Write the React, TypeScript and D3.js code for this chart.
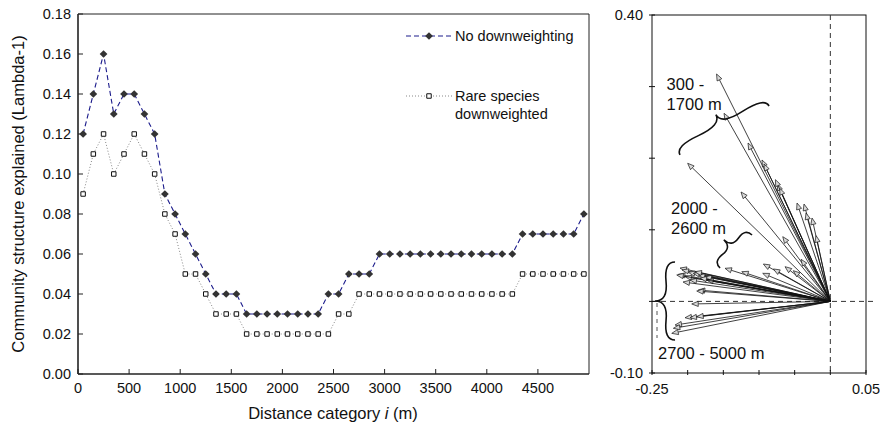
import React from "react";
import * as d3 from "d3";

// ---------- Left panel data ----------
const distances = [
  50, 150, 250, 350, 450, 550, 650, 750, 850, 950,
  1050, 1150, 1250, 1350, 1450, 1550, 1650, 1750, 1850, 1950,
  2050, 2150, 2250, 2350, 2450, 2550, 2650, 2750, 2850, 2950,
  3050, 3150, 3250, 3350, 3450, 3550, 3650, 3750, 3850, 3950,
  4050, 4150, 4250, 4350, 4450, 4550, 4650, 4750, 4850, 4950,
];
const noDownweighting = [
  0.12, 0.14, 0.16, 0.13, 0.14, 0.14, 0.13, 0.12, 0.09, 0.08,
  0.07, 0.06, 0.05, 0.04, 0.04, 0.04, 0.03, 0.03, 0.03, 0.03,
  0.03, 0.03, 0.03, 0.03, 0.04, 0.04, 0.05, 0.05, 0.05, 0.06,
  0.06, 0.06, 0.06, 0.06, 0.06, 0.06, 0.06, 0.06, 0.06, 0.06,
  0.06, 0.06, 0.06, 0.07, 0.07, 0.07, 0.07, 0.07, 0.07, 0.08,
];
const rareDownweighted = [
  0.09, 0.11, 0.12, 0.10, 0.11, 0.12, 0.11, 0.10, 0.08, 0.07,
  0.05, 0.05, 0.04, 0.03, 0.03, 0.03, 0.02, 0.02, 0.02, 0.02,
  0.02, 0.02, 0.02, 0.02, 0.02, 0.03, 0.03, 0.04, 0.04, 0.04,
  0.04, 0.04, 0.04, 0.04, 0.04, 0.04, 0.04, 0.04, 0.04, 0.04,
  0.04, 0.04, 0.04, 0.05, 0.05, 0.05, 0.05, 0.05, 0.05, 0.05,
];
const xTicksLeft = [0, 500, 1000, 1500, 2000, 2500, 3000, 3500, 4000, 4500];
const yTicksLeft = [0, 0.02, 0.04, 0.06, 0.08, 0.1, 0.12, 0.14, 0.16, 0.18];
const legendLabels = ["No downweighting", "Rare species", "downweighted"];

// ---------- Right panel data (arrow tips, axes 1 & 2) ----------
const arrowX = [
  -0.1595, -0.149, -0.1154, -0.0958, -0.093, -0.0743, -0.077, -0.071, -0.0467, -0.0369,
  -0.0341, -0.0257, -0.02, -0.0667, -0.0411,
  -0.2, -0.1252, -0.1476, -0.1242, -0.0939, -0.0799, -0.0635, -0.0519, -0.0948,
  -0.2107, -0.2079, -0.2131, -0.2037, -0.1991, -0.1921, -0.1851, -0.1757, -0.1733, -0.2153,
  -0.1897, -0.1851, -0.1873, -0.1943, -0.2037, -0.1967, -0.1873, -0.2177, -0.2201, -0.2223,
  -0.1827, -0.1967, -0.2065,
];
const arrowY = [
  0.3176, 0.2627, 0.2212, 0.1975, 0.1919, 0.164, 0.17, 0.158, 0.1374, 0.136,
  0.1235, 0.1165, 0.0918, 0.0904, 0.0588,
  0.1929, 0.1528, 0.0462, 0.0415, 0.0522, 0.0453, 0.0485, 0.0429, 0.0392,
  0.0466, 0.0439, 0.0378, 0.0345, 0.0406, 0.0392, 0.0369, 0.0345, 0.0299, 0.0369,
  0.0415, 0.0159, 0.0145, -0.0036, -0.0228, -0.0228, -0.0214, -0.033, -0.0376, -0.0446,
  0.0327, 0.0299, 0.0271,
];
const xTicksRight = [-0.25, -0.2, -0.15, -0.1, -0.05, 0, 0.05];
const yTicksRight = [-0.1, 0, 0.1, 0.2, 0.3, 0.4];
const groupLabels = [
  { lines: ["300 -", "1700 m"], x: -0.2295, y: 0.2955 },
  { lines: ["2000 -", "2600 m"], x: -0.2233, y: 0.122 },
  { lines: ["2700 - 5000 m"], x: -0.2415, y: -0.0804 },
];
// braces: [x1, y1, x2, y2, depth(px)]
const braces = [
  [-0.0859, 0.2729, -0.2107, 0.2045, 18],
  [-0.1098, 0.0927, -0.1546, 0.0466, 17],
  [-0.2177, 0.055, -0.2177, -0.0539, 20],
];

const FONT = "'Liberation Sans', Arial, Helvetica, sans-serif";

function bracePath(x1: number, y1: number, x2: number, y2: number, w: number, q: number) {
  let dx = x1 - x2;
  let dy = y1 - y2;
  const len = Math.sqrt(dx * dx + dy * dy);
  dx /= len;
  dy /= len;
  const qx1 = x1 + q * w * dy, qy1 = y1 - q * w * dx;
  const qx2 = x1 - 0.25 * len * dx + (1 - q) * w * dy, qy2 = y1 - 0.25 * len * dy - (1 - q) * w * dx;
  const tx1 = x1 - 0.5 * len * dx + w * dy, ty1 = y1 - 0.5 * len * dy - w * dx;
  const qx3 = x2 + q * w * dy, qy3 = y2 - q * w * dx;
  const qx4 = x1 - 0.75 * len * dx + (1 - q) * w * dy, qy4 = y1 - 0.75 * len * dy - (1 - q) * w * dx;
  return `M${x1},${y1} Q${qx1},${qy1} ${qx2},${qy2} T${tx1},${ty1} M${x2},${y2} Q${qx3},${qy3} ${qx4},${qy4} T${tx1},${ty1}`;
}

export default function App() {
  // Left panel scales
  const xL = d3.scaleLinear().domain([0, 5000]).range([78, 589]);
  const yL = d3.scaleLinear().domain([0, 0.18]).range([374, 14]);
  // Right panel scales
  const xR = d3.scaleLinear().domain([-0.25, 0.05]).range([652, 866]);
  const yR = d3.scaleLinear().domain([-0.1, 0.4]).range([373, 15]);

  const lineGen = d3
    .line<number>()
    .x((_, i) => xL(distances[i]))
    .y((d) => yL(d));

  const diamond = d3.symbol().type(d3.symbolDiamond2).size(38)();
  const square = d3.symbol().type(d3.symbolSquare).size(20)();

  const ox = xR(0), oy = yR(0);

  return (
    <div style={{ position: "fixed", left: 0, top: 0 }}>
      <svg width={880} height={429} style={{ display: "block", fontFamily: FONT }}>
        <rect width={880} height={429} fill="#fff" />
        {/* ===== Left panel ===== */}
        <line x1={xL(0)} x2={xL(5000)} y1={yL(0.18)} y2={yL(0.18)} stroke="#222" strokeWidth={1} />
        <line x1={xL(5000)} x2={xL(5000)} y1={yL(0.18)} y2={yL(0)} stroke="#222" strokeWidth={1} />
        <line x1={xL(0)} x2={xL(0)} y1={yL(0.18)} y2={yL(0)} stroke="#222" strokeWidth={1.6} />
        <line x1={xL(0)} x2={xL(5000)} y1={yL(0)} y2={yL(0)} stroke="#222" strokeWidth={1.6} />
        {yTicksLeft.map((t) => (
          <g key={"yl" + t}>
            <line x1={xL(0)} x2={xL(0) + 5} y1={yL(t)} y2={yL(t)} stroke="#222" strokeWidth={1} />
            <text x={71} y={yL(t)} dy="0.36em" textAnchor="end" fontSize={14.5} fill="#111">
              {t.toFixed(2)}
            </text>
          </g>
        ))}
        {xTicksLeft.map((t) => (
          <g key={"xl" + t}>
            <line x1={xL(t)} x2={xL(t)} y1={yL(0)} y2={yL(0) - 5} stroke="#222" strokeWidth={1} />
            <text x={xL(t)} y={393} textAnchor="middle" fontSize={14.5} fill="#111">
              {t}
            </text>
          </g>
        ))}
        <text
          transform={`translate(24,${(yL(0) + yL(0.18)) / 2}) rotate(-90)`}
          textAnchor="middle"
          fontSize={16.5}
          fill="#111"
        >
          Community structure explained (Lambda-1)
        </text>
        <text x={333} y={419} textAnchor="middle" fontSize={16.5} fill="#111">
          Distance category <tspan fontStyle="italic">i</tspan>{"  (m)"}
        </text>

        {/* series */}
        <path d={lineGen(rareDownweighted) || ""} fill="none" stroke="#888" strokeWidth={1} strokeDasharray="1,2" />
        <path d={lineGen(noDownweighting) || ""} fill="none" stroke="#1c1c8c" strokeWidth={1.1} strokeDasharray="5,3" />
        {rareDownweighted.map((v, i) => (
          <path
            key={"r" + i}
            d={square || ""}
            transform={`translate(${xL(distances[i])},${yL(v)})`}
            fill="#fff"
            stroke="#111"
            strokeWidth={1}
          />
        ))}
        {noDownweighting.map((v, i) => (
          <path
            key={"n" + i}
            d={diamond || ""}
            transform={`translate(${xL(distances[i])},${yL(v)})`}
            fill="#333"
          />
        ))}

        {/* legend */}
        <line x1={406} x2={452} y1={36} y2={36} stroke="#1c1c8c" strokeWidth={1.1} strokeDasharray="5,3" />
        <path d={diamond || ""} transform="translate(429,36)" fill="#333" />
        <text x={455} y={41} fontSize={14.5} fill="#111">{legendLabels[0]}</text>
        <line x1={406} x2={452} y1={96} y2={96} stroke="#888" strokeWidth={1} strokeDasharray="1,2" />
        <path d={square || ""} transform="translate(429,96)" fill="#fff" stroke="#111" strokeWidth={1} />
        <text x={455} y={101} fontSize={14.5} fill="#111">{legendLabels[1]}</text>
        <text x={455} y={119} fontSize={14.5} fill="#111">{legendLabels[2]}</text>

        {/* ===== Right panel ===== */}
        <rect x={xR(-0.25)} y={yR(0.4)} width={xR(0.05) - xR(-0.25)} height={yR(-0.1) - yR(0.4)} fill="none" stroke="#111" strokeWidth={1} />
        <line x1={ox} x2={ox} y1={yR(0.4)} y2={yR(-0.1)} stroke="#333" strokeWidth={1} strokeDasharray="5,4" />
        <line x1={xR(-0.25)} x2={877} y1={oy} y2={oy} stroke="#333" strokeWidth={1} strokeDasharray="5,4" />
        {yTicksRight.map((t) => (
          <line key={"yr" + t} x1={xR(-0.25) - 3} x2={xR(-0.25) + 3} y1={yR(t)} y2={yR(t)} stroke="#111" strokeWidth={1} />
        ))}
        {xTicksRight.map((t) => (
          <line key={"xr" + t} x1={xR(t)} x2={xR(t)} y1={yR(-0.1) + 2} y2={yR(-0.1) - 3} stroke="#111" strokeWidth={1} />
        ))}
        <text x={643} y={yR(0.4)} dy="0.36em" textAnchor="end" fontSize={14.5} fill="#111">0.40</text>
        <text x={643} y={yR(-0.1)} dy="0.36em" textAnchor="end" fontSize={14.5} fill="#111">-0.10</text>
        <text x={xR(-0.25)} y={394} textAnchor="middle" fontSize={14.5} fill="#111">-0.25</text>
        <text x={xR(0.05)} y={394} textAnchor="middle" fontSize={14.5} fill="#111">0.05</text>

        {/* arrows */}
        {arrowX.map((ax, i) => {
          const tx = xR(ax), ty = yR(arrowY[i]);
          const ang = Math.atan2(ty - oy, tx - ox);
          const L = 6.5, W = 2.6;
          const bx = tx - L * Math.cos(ang), by = ty - L * Math.sin(ang);
          const px = -Math.sin(ang) * W, py = Math.cos(ang) * W;
          return (
            <g key={"a" + i}>
              <line x1={ox} y1={oy} x2={bx} y2={by} stroke="#111" strokeWidth={0.8} />
              <polygon
                points={`${tx},${ty} ${bx + px},${by + py} ${bx - px},${by - py}`}
                fill="#d8d8d8"
                stroke="#111"
                strokeWidth={0.7}
              />
            </g>
          );
        })}

        {/* braces */}
        {braces.map((b, i) => (
          <path
            key={"b" + i}
            d={bracePath(xR(b[0]), yR(b[1]), xR(b[2]), yR(b[3]), b[4], 0.55)}
            fill="none"
            stroke="#111"
            strokeWidth={1.6}
          />
        ))}
        <line x1={657} x2={657} y1={303} y2={338} stroke="#555" strokeWidth={1} strokeDasharray="4,4" />

        {groupLabels.map((g, i) => (
          <text key={"g" + i} x={xR(g.x)} y={yR(g.y)} fontSize={16.5} fill="#111">
            {g.lines.map((l, j) => (
              <tspan key={j} x={xR(g.x)} dy={j === 0 ? 0 : 20}>
                {l}
              </tspan>
            ))}
          </text>
        ))}
      </svg>
    </div>
  );
}
